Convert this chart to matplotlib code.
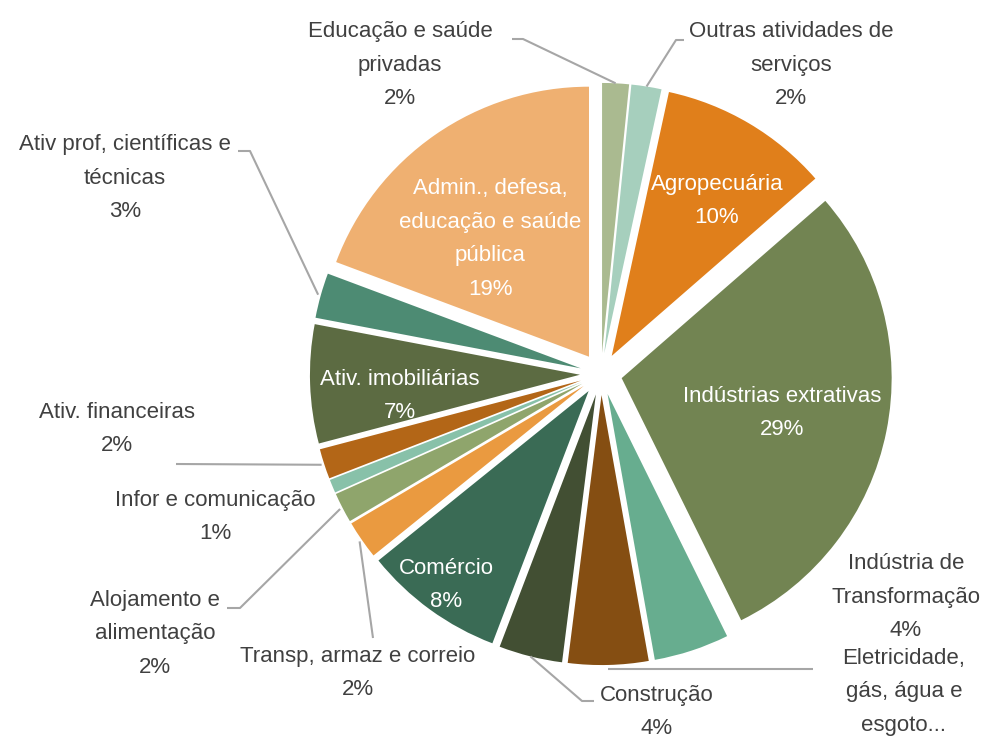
import matplotlib
matplotlib.use("Agg")
import matplotlib.pyplot as plt
import numpy as np

# ---------------- data ----------------
categories = [
    "Agropecuária",
    "Indústrias extrativas",
    "Indústria de\nTransformação",
    "Eletricidade,\ngás, água e\nesgoto...",
    "Construção",
    "Comércio",
    "Transp, armaz e correio",
    "Alojamento e\nalimentação",
    "Infor e comunicação",
    "Ativ. financeiras",
    "Ativ. imobiliárias",
    "Ativ prof, científicas e\ntécnicas",
    "Admin., defesa,\neducação e saúde\npública",
    "Educação e saúde\nprivadas",
    "Outras atividades de\nserviços",
]
values = [10.2, 29.1, 4.5, 4.8, 3.8, 8.4, 2.3, 1.8, 0.8, 1.8, 7.1, 2.7, 19.3, 1.6, 1.8]
show_pct = [True, True, True, False, True, True, True, True, True, True, True, True, True, True, True]
inside = [True, True, False, False, False, True, False, False, False, False, True, False, True, False, False]

colors = ["#E07F1B", "#728452", "#67AD8F", "#854E12", "#424F33", "#3A6B55",
          "#EA9A40", "#8FA56C", "#88C1A9", "#B36617", "#5C6B42", "#4D8B73",
          "#EFB071", "#AABA90", "#A6CFBD"]

# ---------------- layout ----------------
W, H = 986, 738
CX, CY, R = 601, 374, 270.0


def P(x, y):
    return ((x - CX) / R, (CY - y) / R)


plt.rcParams['font.family'] = ['Liberation Sans', 'DejaVu Sans']
fig = plt.figure(figsize=(W / 100, H / 100), dpi=100)
ax = fig.add_axes([0, 0, 1, 1])

total = sum(values)
tail = values[-2] + values[-1]
start = 90 - tail / total * 360.0
wedges, _ = ax.pie(values, colors=colors, explode=[0.078] * len(values),
                   startangle=start, counterclock=False, radius=1.0,
                   wedgeprops=dict(linewidth=0))
ax.set_xlim(-CX / R, (W - CX) / R)
ax.set_ylim(-(H - CY) / R, CY / R)
ax.set_aspect('equal')
ax.axis('off')

pcts = [f"{round(v / total * 100):.0f}%" for v in values]
labels = [c + ("\n" + p if s else "") for c, p, s in zip(categories, pcts, show_pct)]

FS = 16
LS = 1.8
label_pos = {
    0: (717, 201), 1: (782, 413), 2: (906, 597), 3: (904, 692), 4: (657, 712),
    5: (446, 585), 6: (358, 673), 7: (155, 634), 8: (215, 517), 9: (117, 429),
    10: (400, 396), 11: (125, 178), 12: (490, 239), 13: (400, 65), 14: (791, 65),
}
for i, lab in enumerate(labels):
    x, y = P(*label_pos[i])
    ax.text(x, y, lab, ha='center', va='center', multialignment='center',
            fontsize=FS, linespacing=LS,
            color='white' if inside[i] else '#404040', zorder=5)

# leader lines: wedge index -> (radius factor, elbow points from label side)
leaders = {
    13: (1.0, [(512, 39), (523, 39)]),
    14: (1.0, [(684, 40), (676, 40)]),
    11: (1.01, [(238, 151), (250, 151)]),
    9: (1.01, [(176, 464)]),
    7: (1.01, [(227, 608), (240, 608)]),
    6: (1.01, [(373, 638)]),
    4: (1.0, [(594, 701), (582, 701)]),
}
for i, (rf, pts) in leaders.items():
    w = wedges[i]
    th = np.deg2rad((w.theta1 + w.theta2) / 2)
    ax_, ay_ = w.center
    anchor = (ax_ + rf * np.cos(th), ay_ + rf * np.sin(th))
    path = [P(*p) for p in pts] + [anchor]
    xs, ys = zip(*path)
    ax.plot(xs, ys, color='#A6A6A6', lw=1.5, zorder=4, solid_capstyle='butt')

# horizontal leader for Eletricidade
w = wedges[3]
th = np.deg2rad((w.theta1 + w.theta2) / 2)
ex = w.center[0] + 1.0 * np.cos(th)
ey = w.center[1] + 1.015 * np.sin(th)
ax.plot([P(813, 0)[0], ex], [ey, ey], color='#A6A6A6', lw=1.5, zorder=4,
        solid_capstyle='butt')

fig.savefig("out.png", dpi=100, facecolor='white')
